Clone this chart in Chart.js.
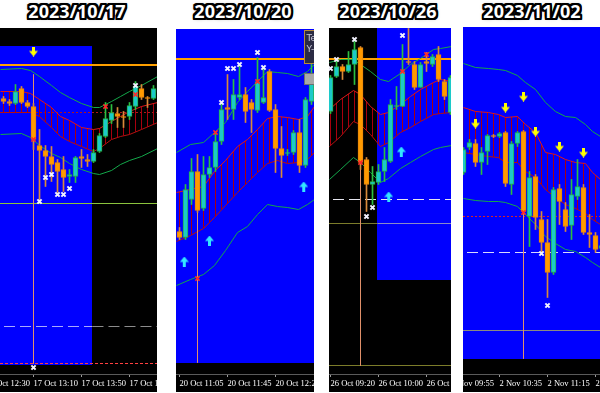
<!DOCTYPE html>
<html>
<head>
<meta charset="utf-8">
<script src="https://cdn.jsdelivr.net/npm/chart.js@4.4.0/dist/chart.umd.min.js"></script>
<style>
  html, body { margin:0; padding:0; background:#fff; width:600px; height:393px; overflow:hidden; }
  .title {
    position:absolute; top:1px; width:140px; text-align:center;
    font:700 18px "Noto Sans", sans-serif; line-height:20px; color:#fff;
    text-shadow:
      2px 0 0 #000, -2px 0 0 #000, 0 2px 0 #000, 0 -2px 0 #000,
      2px 2px 0 #000, -2px -2px 0 #000, 2px -2px 0 #000, -2px 2px 0 #000,
      1px 2px 0 #000, 2px 1px 0 #000, -1px 2px 0 #000, -2px 1px 0 #000,
      1px -2px 0 #000, 2px -1px 0 #000, -1px -2px 0 #000, -2px -1px 0 #000,
      0 0 4px #777;
  }
  .panel { position:absolute; overflow:hidden; background:#000; }
  .panel canvas { position:absolute; left:-60px; top:0; }
</style>
</head>
<body>
<div class="title" style="left:7px">2023/10/17</div>
<div class="title" style="left:173px">2023/10/20</div>
<div class="title" style="left:318px">2023/10/26</div>
<div class="title" style="left:462px">2023/11/02</div>
<div class="panel" id="p1"></div>
<div class="panel" id="p2"></div>
<div class="panel" id="p3"></div>
<div class="panel" id="p4"></div>
<script>
/* DATA  (prices in chart points, bar index = 5 min) */

// 2023/10/17, first bar 12:45
const p1Open  = [301,298,296,311,297,293,254,249,243,237,230,223,223,243,240,238,248,263,279,286,283,283,293,311,302,301,307];
const p1High  = [303,300,315,313,299,296,270,254,253,240,243,230,243,250,245,250,266,297,295,292,288,297,318,315,303,314,320];
const p1Low   = [296,294,295,296,292,250,200,213,218,207,208,217,217,232,233,237,247,262,276,272,272,280,290,300,292,300,305];
const p1Close = [298,296,308,297,293,260,249,243,235,228,222,225,242,241,238,247,264,281,287,283,282,294,313,302,301,311,318];
const p1BandX     = [-0.5,3,4.5,6,8,9.5,11,13,15,16,18,19.5,21,23,25.7];
const p1Upper     = [330,331,329,323,314,307,302,296,292,292,298,303,308,314,323];
const p1CloudTop  = [308,308,306,300,292,283,279,272,270,271,278,283,288,293,297];
const p1CloudBot  = [287,287,287,283,272,263,258,253,248,251,260,263,265,270,277];
const p1Lower     = [265,266,262,254,246,242,236,230,226,225,229,235,239,243,251];
const p1Levels    = [334.5, 287, 196, 73, 36];
const p1Cursor    = [5, 325, 36];
const p1Zone      = [-20, 14.83, 35, 353];
const p1WhiteX    = [[6,198],[7,222],[8,225],[9,205],[10,205],[11,211],[22,314],[5,32]];
const p1RedX      = [[5,260],[17,293],[22,305],[26,315]];
const p1DownArrows = [[5,348]];
const p1Ticks      = [-3, 5, 13, 21];
const p1TickLabels = ['17 Oct 12:30','17 Oct 13:10','17 Oct 13:50','17 Oct 14:30'];

// 2023/10/20, first bar 11:05
const p2Open  = [168,162,200,228,191,225,232,258,292,290,302,305,297,289,297,328,290,251,246,247,267,234,298];
const p2High  = [172,215,241,245,243,243,267,297,325,320,335,312,300,342,332,330,295,273,250,269,280,302,358];
const p2Low   = [160,160,195,187,189,222,228,255,280,280,300,277,267,287,296,288,227,222,244,245,227,232,295];
const p2Close = [162,210,228,189,225,232,258,290,290,305,305,288,290,318,302,289,251,244,247,267,234,300,322];
const p2BandX     = [-0.5,1.83,4,5.83,7.67,9.67,11.33,13,14.67,16.33,18,19.83,21.33,22.5];
const p2Upper     = [247,255,257,267,277,297,308,318,328,327,326,323,328,335];
const p2CloudTop  = [207,210,213,228,239,253,260,270,281,283,282,280,283,293];
const p2CloudBot  = [158,164,171,182,194,207,217,227,236,239,236,237,240,247];
const p2Lower     = [114,120,125,134,149,167,173,185,195,193,192,190,195,200];
const p2Levels    = [340.5];
const p2Cursor    = [3, 187, 37];
const p2Zone      = [-20, 40, 37, 372];
const p2WhiteX    = [[7,297],[8,331],[9,331],[10,335],[13,347],[14,332]];
const p2RedX      = [[3,121],[6,267],[13,318]];
const p2UpArrows  = [[0.8,138],[5,159],[20.7,213]];
const p2Ticks      = [0, 8, 16];
const p2TickLabels = ['20 Oct 11:05','20 Oct 11:45','20 Oct 12:25'];

// 2023/10/26, first bar 09:20
const p3Open  = [288,323,333,328,335,352,240,215,217,228,238,293,293,338,335,312,338,335,345,318,287];
const p3High  = [324,340,335,348,358,353,242,233,235,252,300,313,355,371,338,337,347,345,353,320,324];
const p3Low   = [286,322,320,327,315,230,188,195,215,218,237,290,293,335,310,312,328,333,318,300,285];
const p3Close = [322,333,328,335,350,237,215,218,228,240,295,294,328,337,312,335,336,343,320,303,322];
const p3BandX     = [-0.17,1.67,3.83,5,6.67,8.33,9.67,11.67,13.33,15,17.17,18.33,20.17];
const p3Upper     = [337,340,340,335,328,320,318,326,335,341,350,351,353];
const p3CloudTop  = [290,300,309,305,293,285,287,295,303,310,317,320,318];
const p3CloudBot  = [253,263,278,275,265,253,257,267,272,278,285,286,287];
const p3Lower     = [220,230,242,237,227,217,221,231,237,243,250,252,254];
const p3Levels    = [340.5, 200, 176, 34];
const p3Cursor    = [5, 237, 34];
const p3Zone      = [7.83, 40, 119, 372];
const p3WhiteX    = [[0,331],[1,340],[4,360],[6,183],[7,192],[12,364]];
const p3RedX      = [[5,237],[12,328],[16,345]];
const p3UpArrows  = [[9.7,203],[11.8,248]];
const p3Ticks      = [0, 8, 16];
const p3TickLabels = ['26 Oct 09:20','26 Oct 10:00','26 Oct 10:40'];

// 2023/11/02, first bar 10:05
const p4Open  = [227,252,256,237,248,264,263,267,215,256,268,183,223,180,157,127,211,190,174,203,212,167,164,151];
const p4High  = [252,260,260,252,265,265,267,268,258,268,269,228,225,188,180,212,215,197,220,240,215,185,167,156];
const p4Low   = [225,250,233,225,235,262,262,213,205,253,185,153,170,147,102,125,175,168,160,200,165,152,147,149];
const p4Close = [250,257,237,247,264,263,266,216,256,267,188,222,182,157,127,210,198,173,205,213,167,165,150,154];
const p4BandX     = [0,2,4.17,5.83,7,9,10.33,12,13.67,15.33,17,18.67,20.33,21.5,22.83];
const p4Upper     = [336,332,331,330,329,324,317,310,297,288,283,282,275,268,263];
const p4CloudTop  = [292,288,287,285,282,283,275,267,247,245,240,237,236,227,220];
const p4CloudBot  = [247,245,243,242,237,237,228,222,210,202,195,191,186,180,175];
const p4Lower     = [201,199,198,198,197,193,185,175,163,156,150,148,142,137,132];
const p4Levels    = [183, 147, 69];
const p4Cursor    = [10, 188, 41];
const p4Zone      = [-20, 40, 41, 373];
const p4WhiteX    = [[13,146],[14,94]];
const p4RedX      = [[10,187]];
const p4DownArrows = [[2,276],[7,292],[10,303],[12,268],[16,253],[20,247]];
const p4Ticks      = [-2, 6, 14, 22];
const p4TickLabels = ['2 Nov 09:55','2 Nov 10:35','2 Nov 11:15','2 Nov 11:55'];

/* STYLE */
const PITCH = 6;      // px per bar
const EXTRA = 60;     // hidden canvas margin each side
const UP = '#1cc9c9', UP_EDGE = '#22b04a', UP_WICK = '#2cc040';
const DN = '#ff9a00', DN_EDGE = '#e8860a', DN_WICK = '#d88a3a';
const BAND = '#13a84a', CLOUD_TOP = '#e01818', CLOUD_BOT = '#b81010', HATCH = '#a8000e';
const ORANGE = { color:'#ffa000', width:2 };

function makeArrow(color, down) {
  const c = document.createElement('canvas');
  c.width = 9; c.height = 10;
  const g = c.getContext('2d');
  g.fillStyle = color;
  g.beginPath();
  if (down) {
    g.moveTo(3,0); g.lineTo(6,0); g.lineTo(6,4.5); g.lineTo(9,4.5); g.lineTo(4.5,10); g.lineTo(0,4.5); g.lineTo(3,4.5);
  } else {
    g.moveTo(3,10); g.lineTo(6,10); g.lineTo(6,5.5); g.lineTo(9,5.5); g.lineTo(4.5,0); g.lineTo(0,5.5); g.lineTo(3,5.5);
  }
  g.closePath();
  g.fill();
  return c;
}
const arrowDown = makeArrow('#ffff00', true);
const arrowUp = makeArrow('#33e6ff', false);

function pairs(list) { return list.map(([x, y]) => ({ x, y })); }

function drawInfoBox(chart) {
  const { ctx, chartArea, scales: { x, y } } = chart;
  const l = Math.round(x.getPixelForValue(20.7)) + 0.5;
  const r = chartArea.right + 5;
  const t = Math.round(y.getPixelForValue(370)) + 0.5;
  const b = Math.round(y.getPixelForValue(337)) + 0.5;
  ctx.save();
  ctx.fillStyle = '#2b2b44'; ctx.fillRect(l, t, r - l, b - t);
  ctx.strokeStyle = '#b88a3a'; ctx.lineWidth = 1; ctx.strokeRect(l, t, r - l, b - t);
  ctx.fillStyle = '#c8c8d8'; ctx.font = '9px "DejaVu Sans"';
  ctx.fillText('Te', l + 2, t + 10);
  ctx.fillText('Y-', l + 2, t + 21);
  const t2 = Math.round(y.getPixelForValue(327)) + 0.5;
  const b2 = Math.round(y.getPixelForValue(315)) + 0.5;
  ctx.fillStyle = '#a8a8a8'; ctx.fillRect(l, t2, r - l, b2 - t2);
  ctx.strokeStyle = '#707070'; ctx.strokeRect(l, t2, r - l, b2 - t2);
  ctx.restore();
}

/* PANELS */
const panels = [
  { id:'p1', left:0, top:28, width:157, x0:3.5,
    open:p1Open, high:p1High, low:p1Low, close:p1Close,
    bandX:p1BandX, upper:p1Upper, cloudTop:p1CloudTop, cloudBot:p1CloudBot, lower:p1Lower,
    zone:p1Zone, cursor:p1Cursor, levels:p1Levels,
    levelStyles:[ORANGE, {color:'#b01818', dash:[2,2]}, {color:'#8cc43c'},
                 {color:'#8c8c8c', dash:[11,5], split:[14.83,'#a8a8ff','#8c8c8c']}, {color:'#ff4040', dash:[3,2]}],
    whiteX:p1WhiteX, redX:p1RedX, downArrows:p1DownArrows, upArrows:[],
    ticks:p1Ticks, tickLabels:p1TickLabels },
  { id:'p2', left:176, top:29, width:138, x0:179.5,
    open:p2Open, high:p2High, low:p2Low, close:p2Close,
    bandX:p2BandX, upper:p2Upper, cloudTop:p2CloudTop, cloudBot:p2CloudBot, lower:p2Lower,
    zone:p2Zone, cursor:p2Cursor, levels:p2Levels, levelStyles:[ORANGE],
    whiteX:p2WhiteX, redX:p2RedX, downArrows:[], upArrows:p2UpArrows,
    ticks:p2Ticks, tickLabels:p2TickLabels, extra:drawInfoBox },
  { id:'p3', left:329, top:28, width:122, x0:330.5,
    open:p3Open, high:p3High, low:p3Low, close:p3Close,
    bandX:p3BandX, upper:p3Upper, cloudTop:p3CloudTop, cloudBot:p3CloudBot, lower:p3Lower,
    zone:p3Zone, cursor:p3Cursor, levels:p3Levels,
    levelStyles:[ORANGE, {color:'#e6e6f0', dash:[11,5]},
                 {color:'#7c7c2a', split:[7.83,'#7c7c2a','#8a8ac8']}, {color:'#7c7c2a'}],
    whiteX:p3WhiteX, redX:p3RedX, downArrows:[], upArrows:p3UpArrows,
    ticks:p3Ticks, tickLabels:p3TickLabels },
  { id:'p4', left:463, top:27, width:137, x0:463.5,
    open:p4Open, high:p4High, low:p4Low, close:p4Close,
    bandX:p4BandX, upper:p4Upper, cloudTop:p4CloudTop, cloudBot:p4CloudBot, lower:p4Lower,
    zone:p4Zone, cursor:p4Cursor, levels:p4Levels,
    levelStyles:[{color:'#e02020', dash:[2,2]}, {color:'#d8d8ff', dash:[11,5]}, {color:'#8a8a80'}],
    whiteX:p4WhiteX, redX:p4RedX, downArrows:p4DownArrows, upArrows:[],
    ticks:p4Ticks, tickLabels:p4TickLabels }
];

function buildPanel(p) {
  const holder = document.getElementById(p.id);
  const cw = p.width + 2 * EXTRA, ch = 392 - p.top;
  holder.style.left = p.left + 'px';
  holder.style.top = p.top + 'px';
  holder.style.width = p.width + 'px';
  holder.style.height = ch + 'px';

  const canvas = document.createElement('canvas');
  canvas.width = cw; canvas.height = ch;
  canvas.style.width = cw + 'px'; canvas.style.height = ch + 'px';
  holder.appendChild(canvas);

  const cx0 = p.x0 - p.left + EXTRA;
  const xmin = -cx0 / PITCH, xmax = (cw - cx0) / PITCH;
  const ymin = 25.5, ymax = 399.5 - p.top;

  // vertical hatching for the cloud, one stroke per bar
  const pc = document.createElement('canvas');
  pc.width = PITCH; pc.height = 1;
  const pg = pc.getContext('2d');
  pg.fillStyle = HATCH;
  pg.fillRect(Math.floor(cx0) % PITCH, 0, 1, 1);
  const hatch = pg.createPattern(pc, 'repeat');

  const idx = p.open.map((_, i) => i);
  const up = i => p.close[i] >= p.open[i];
  const bandPts = vals => p.bandX.map((x, i) => ({ x, y: vals[i] }));

  const datasets = [
    { type:'line', data:pairs(p.whiteX), showLine:false, pointStyle:'crossRot', pointRadius:3,
      pointBorderWidth:2, pointBorderColor:'#f2f2ff', order:0 },
    { type:'line', data:pairs(p.redX), showLine:false, pointStyle:'crossRot', pointRadius:3,
      pointBorderWidth:1.5, pointBorderColor:'#ff2a2a', order:0 },
    { type:'line', data:pairs(p.downArrows), showLine:false, pointStyle:arrowDown, pointRadius:5, order:0 },
    { type:'line', data:pairs(p.upArrows), showLine:false, pointStyle:arrowUp, pointRadius:5, order:0 },
    { type:'bar', data:idx.map(i => ({ x:i, y:[p.open[i], p.close[i]] })), grouped:false, barThickness:5,
      backgroundColor:c => up(c.dataIndex) ? UP : DN, borderColor:c => up(c.dataIndex) ? UP_EDGE : DN_EDGE,
      borderWidth:1, borderSkipped:false, order:1 },
    { type:'bar', data:idx.map(i => ({ x:i, y:[p.low[i], p.high[i]] })), grouped:false, barThickness:1,
      backgroundColor:c => up(c.dataIndex) ? UP_WICK : DN_WICK, borderWidth:0, order:2 },
    { type:'line', data:[{ x:p.cursor[0], y:p.cursor[1] }, { x:p.cursor[0], y:p.cursor[2] }],
      borderColor:'#e0906a', borderWidth:1, pointRadius:0, order:3 },
    { type:'line', data:bandPts(p.cloudTop), borderColor:CLOUD_TOP, borderWidth:1, pointRadius:0,
      fill:'+1', backgroundColor:hatch, order:4 },
    { type:'line', data:bandPts(p.cloudBot), borderColor:CLOUD_BOT, borderWidth:1, pointRadius:0, order:4 },
    { type:'line', data:bandPts(p.upper), borderColor:BAND, borderWidth:1, pointRadius:0, order:5 },
    { type:'line', data:bandPts(p.lower), borderColor:BAND, borderWidth:1, pointRadius:0, order:5 }
  ];

  p.levels.forEach((v, k) => {
    const s = p.levelStyles[k];
    const xs = s.split ? [xmin, s.split[0], xmax] : [xmin, xmax];
    const set = { type:'line', data:xs.map(x => ({ x, y:v })), borderColor:s.color, borderWidth:s.width || 1,
                  borderDash:s.dash || [], pointRadius:0, order:6 };
    if (s.split) {
      set.segment = { borderColor:c => c.p0.parsed.x < s.split[0] ? s.split[1] : s.split[2] };
    }
    datasets.push(set);
  });

  const background = {
    id:'panelBackground',
    beforeDraw(chart) {
      const { ctx, chartArea, scales:{ x, y } } = chart;
      ctx.save();
      ctx.fillStyle = '#000';
      ctx.fillRect(0, 0, chart.width, chart.height);
      const z = p.zone;
      const l = Math.round(Math.max(x.getPixelForValue(z[0]), chartArea.left));
      const r = Math.round(Math.min(x.getPixelForValue(z[1]), chartArea.right));
      const t = Math.round(Math.max(y.getPixelForValue(z[3]), chartArea.top));
      const b = Math.round(Math.min(y.getPixelForValue(z[2]), chartArea.bottom));
      ctx.fillStyle = '#0000ff';
      ctx.fillRect(l, t, r - l, b - t);
      ctx.restore();
    },
    afterDatasetsDraw(chart) {
      if (p.extra) p.extra(chart);
    }
  };

  new Chart(canvas, {
    type:'bar',
    data:{ datasets },
    options:{
      responsive:false, animation:false, events:[],
      layout:{ padding:0, autoPadding:false },
      plugins:{ legend:{ display:false }, tooltip:{ enabled:false } },
      scales:{
        x:{
          type:'linear', min:xmin, max:xmax, offset:false,
          afterBuildTicks:s => { s.ticks = p.ticks.map(v => ({ value:v })); },
          afterFit:s => { s.height = 18; s.paddingLeft = 0; s.paddingRight = 0; },
          ticks:{ autoSkip:false, maxRotation:0, minRotation:0, align:'start', padding:2, color:'#ffffff',
                  font:{ family:'"Liberation Serif", serif', size:8.5 },
                  callback:(v, i) => p.tickLabels[i] },
          grid:{ drawOnChartArea:false, offset:false, tickLength:3, color:'#9a9a9a' },
          border:{ color:'#5a5a5a' }
        },
        y:{ type:'linear', display:false, min:ymin, max:ymax }
      }
    },
    plugins:[background]
  });
}

panels.forEach(buildPanel);
</script>
</body>
</html>
